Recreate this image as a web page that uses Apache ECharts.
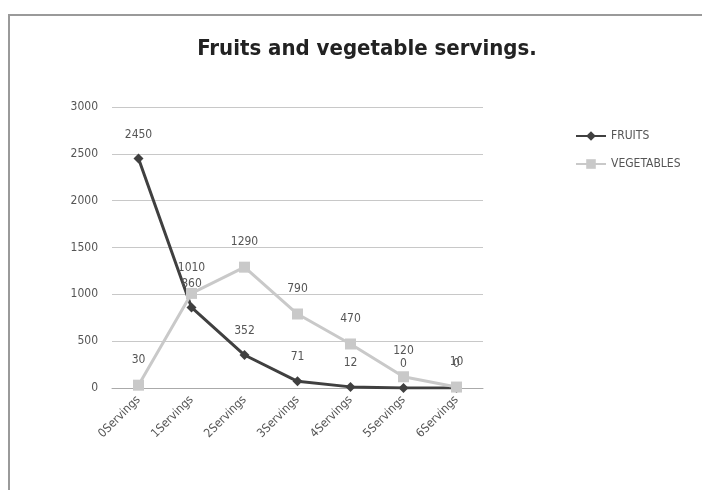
<!DOCTYPE html>
<html>
<head>
<meta charset="utf-8">
<script src="https://cdn.jsdelivr.net/npm/echarts@6/dist/echarts.min.js"></script>
<style>
  html, body { margin: 0; padding: 0; background: #fff; }
  #frame { position: absolute; left: 8px; top: 14px; width: 700px; height: 480px;
           border-left: 2px solid #9a9a9a; border-top: 2px solid #9a9a9a; box-sizing: border-box; }
  #chart { position: absolute; left: 0; top: 0; width: 702px; height: 490px; }
</style>
</head>
<body>
<div id="frame"></div>
<div id="chart"></div>
<script>
// Servings per day and how many respondents reported each
const categories = ['0Servings', '1Servings', '2Servings', '3Servings', '4Servings', '5Servings', '6Servings'];
const fruits = [2450, 860, 352, 71, 12, 0, 0];
const vegetables = [30, 1010, 1290, 790, 470, 120, 10];
const yTicks = { min: 0, max: 3000, interval: 500 };

const font = "'DejaVu Sans Condensed', 'Liberation Sans Narrow', sans-serif";
const chart = echarts.init(document.getElementById('chart'));

chart.setOption({
  animation: false,
  title: {
    text: 'Fruits and vegetable servings.',
    left: 362, top: 33, textAlign: 'center',
    textStyle: { fontFamily: font, fontSize: 22, fontWeight: 'bold', color: '#222' }
  },
  legend: {
    orient: 'vertical', left: 570, top: 125, itemGap: 16,
    itemWidth: 30, itemHeight: 12,
    textStyle: { fontFamily: font, fontSize: 12, color: '#555' },
    data: ['FRUITS', 'VEGETABLES']
  },
  grid: { left: 112, right: 219, top: 107, bottom: 102 },
  xAxis: {
    type: 'category', data: categories, boundaryGap: true,
    axisLine: { lineStyle: { color: '#aaa' } },
    axisTick: { show: false },
    axisLabel: { rotate: 45, fontFamily: font, fontSize: 12, color: '#555', margin: 10 }
  },
  yAxis: {
    type: 'value', min: yTicks.min, max: yTicks.max, interval: yTicks.interval,
    axisLine: { show: false }, axisTick: { show: false },
    axisLabel: { fontFamily: font, fontSize: 12, color: '#555', margin: 14,
                 formatter: v => String(v) },
    splitLine: { lineStyle: { color: '#c8c8c8' } }
  },
  series: [
    {
      name: 'FRUITS', type: 'line', data: fruits,
      symbol: 'diamond', symbolSize: 10,
      lineStyle: { color: '#404040', width: 3 },
      itemStyle: { color: '#404040' },
      label: { show: true, position: 'top', distance: 13, fontFamily: font, fontSize: 12, color: '#555' }
    },
    {
      name: 'VEGETABLES', type: 'line', data: vegetables,
      symbol: 'rect', symbolSize: 11,
      lineStyle: { color: '#c9c9c9', width: 3 },
      itemStyle: { color: '#c9c9c9' },
      label: { show: true, position: 'top', distance: 14, fontFamily: font, fontSize: 12, color: '#555' }
    }
  ]
});
</script>
</body>
</html>
